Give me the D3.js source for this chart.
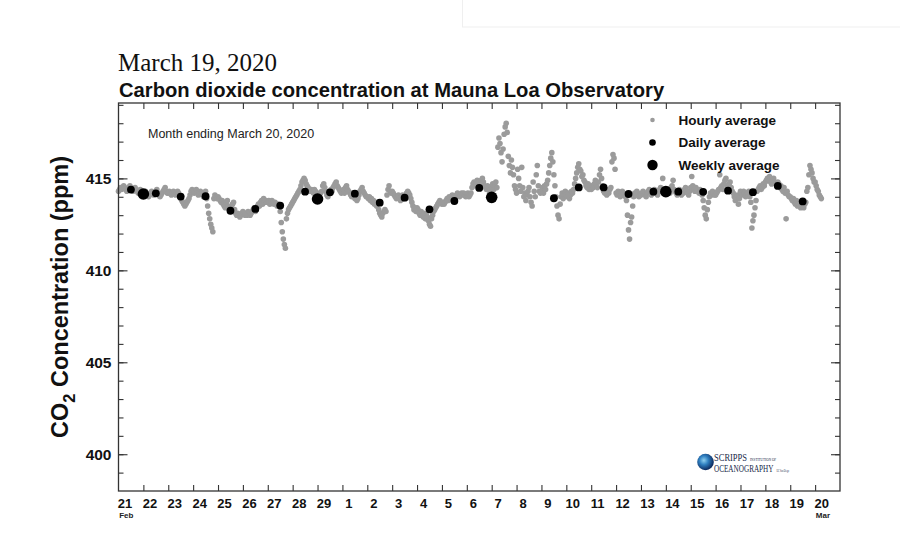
<!DOCTYPE html>
<html>
<head>
<meta charset="utf-8">
<script src="https://cdn.jsdelivr.net/npm/d3@7"></script>
<style>
  html, body { margin: 0; padding: 0; background: #fff; }
  svg { display: block; }
</style>
</head>
<body>
<svg id="chart" width="900" height="540"></svg>
<script>
// ---------------- DATA ----------------
const titleDate = "March 19, 2020";
const titleText = "Carbon dioxide concentration at Mauna Loa Observatory";
const noteText = "Month ending March 20, 2020";
const legendLabels = ["Hourly average", "Daily average", "Weekly average"];

// Hourly averages (ppm), one value per hour starting Feb 21 2020 00:00
const hourlyStart = "2020-02-21T00:00:00Z";
const hourlyFeb21toFeb27 = [
  414.3,414.4,414.5,414.4,414.5,414.6,414.5,414.4,414.3,414.4,414.5,414.6,414.5,414.4,414.3,414.4,414.5,414.4,414.3,414.2,414.3,414.4,414.3,414.2,
  414.2,414.1,414.3,414.2,414.1,414.0,414.1,414.2,414.3,414.2,414.1,414.2,414.3,414.4,414.2,414.1,414.0,414.1,414.2,414.3,414.4,414.5,414.3,414.2,
  414.2,414.3,414.2,414.1,414.2,414.3,414.2,414.1,414.2,414.3,414.2,414.0,413.9,413.8,413.7,413.6,413.5,413.6,413.7,413.8,413.9,414.1,414.3,414.4,
  414.3,414.2,414.3,414.4,414.2,414.1,414.2,414.3,414.2,414.1,414.0,414.2,414.3,413.9,413.5,413.1,412.8,412.5,412.3,412.1,413.9,414.1,414.0,413.9,
  414.0,413.9,413.8,413.7,413.8,413.6,413.5,413.4,413.7,413.8,413.5,413.3,413.2,413.4,413.6,413.7,413.3,413.1,413.0,413.1,413.0,412.9,413.0,413.1,
  413.2,413.1,413.0,413.1,413.0,413.2,413.1,413.0,413.1,413.2,413.3,413.4,413.2,413.3,413.5,413.6,413.5,413.7,413.8,413.6,413.9,413.7,413.8,413.7,
  413.7,413.8,413.6,413.7,413.8,413.7,413.6,413.7,413.6,413.5,413.6,413.5,413.2,412.6,412.1,411.7,411.4,411.2,412.8,413.1,413.3,413.4,413.5,413.6
];
const hourlyFeb28toMar05 = [
  413.7,413.8,413.9,414.0,414.1,414.2,414.3,414.4,414.6,414.8,414.9,415.0,414.9,414.7,414.6,414.5,414.4,414.3,414.4,414.3,414.2,414.4,414.3,414.2,
  414.2,414.1,414.0,414.2,414.3,414.6,414.7,414.5,414.3,414.1,414.0,414.2,414.3,414.4,414.3,414.5,414.6,414.7,414.8,414.6,414.5,414.4,414.3,414.2,
  414.3,414.4,414.2,414.5,414.6,414.4,414.3,414.2,414.1,414.0,414.2,414.1,413.9,414.0,413.8,413.9,414.1,414.3,414.4,414.5,414.3,414.2,414.1,414.0,
  414.0,413.9,414.0,413.8,413.9,413.7,413.8,413.6,413.7,413.5,413.6,413.3,413.1,413.0,412.9,413.1,413.2,413.3,413.2,414.1,414.4,414.6,414.3,414.2,
  414.3,414.2,414.1,414.0,413.9,414.0,414.1,413.9,413.8,414.0,414.1,413.9,414.0,414.1,414.2,414.3,414.2,414.1,413.9,413.7,413.5,413.3,413.4,413.2,
  413.4,413.3,413.1,413.0,413.2,413.0,412.9,413.1,412.8,413.0,412.9,412.7,412.5,412.4,412.8,413.0,413.2,413.3,413.4,413.5,413.6,413.7,413.8,413.7,
  413.6,413.7,413.6,413.7,413.8,413.9,413.8,414.0,413.9,414.0,414.1,414.0,413.9,414.0,414.1,414.2,414.1,414.0,414.1,414.2,414.1,414.2,414.1,414.0
];
const hourlyMar06toMar12 = [
  414.1,414.2,414.0,414.1,414.2,414.5,414.7,414.8,414.6,414.7,414.9,414.8,414.6,414.5,414.9,415.0,414.8,414.6,414.5,414.4,414.6,414.5,414.3,414.4,
  414.5,414.7,414.4,414.6,414.8,414.5,416.7,417.2,416.9,416.4,415.9,416.6,417.4,417.8,418.0,417.5,416.2,415.7,415.3,416.0,415.6,415.2,414.6,414.4,
  414.2,415.5,415.0,414.6,414.3,415.6,414.5,414.0,414.2,413.8,414.1,414.3,414.5,414.0,413.7,413.5,414.8,414.3,414.0,415.2,415.7,414.6,414.3,414.2,
  414.3,414.5,414.2,414.6,414.4,414.7,414.9,415.3,415.7,416.1,416.4,415.9,415.2,414.6,414.0,413.5,413.0,412.8,413.6,414.0,414.2,413.9,414.1,414.3,
  414.1,414.0,414.2,413.9,414.1,414.3,414.2,414.4,414.7,415.0,415.3,415.6,415.8,415.5,415.4,415.1,415.2,414.9,414.8,414.6,414.5,414.7,414.4,414.6,
  414.4,414.6,414.5,414.7,414.9,414.6,414.5,414.8,415.2,415.5,415.0,414.6,414.3,414.2,414.4,414.1,414.3,414.2,414.4,414.5,415.9,416.3,416.1,415.5,
  414.2,414.1,414.3,414.2,414.0,414.1,414.3,414.2,414.1,414.0,413.8,413.0,412.2,411.7,412.6,412.9,413.5,414.0,414.2,414.1,414.3,414.2,414.0,414.1
];
const hourlyMar13toMar20 = [
  414.1,414.2,414.3,414.2,414.1,414.0,414.2,414.3,414.4,414.2,414.1,414.3,414.2,414.4,414.3,414.2,414.1,414.3,414.4,414.5,414.3,415.0,414.4,414.3,
  414.3,414.2,414.4,414.3,414.2,414.5,414.6,414.9,414.4,414.3,414.2,414.1,414.3,414.4,414.2,414.1,414.3,414.2,414.4,414.5,414.3,414.2,414.1,414.3,
  414.5,415.1,414.6,414.4,414.3,414.5,414.4,414.3,414.2,414.4,414.3,414.1,413.8,413.4,413.0,412.8,413.3,413.7,414.0,414.2,414.1,414.3,414.2,414.1,
  414.1,414.2,414.3,414.4,415.2,414.5,414.6,414.4,414.7,414.9,415.0,414.6,414.5,414.7,414.8,414.5,414.3,414.2,414.0,413.8,413.9,414.1,413.6,413.9,
  414.3,414.2,414.1,414.3,414.2,414.0,414.1,414.2,414.3,414.0,413.7,412.3,412.7,413.0,413.4,413.8,414.3,414.4,414.5,414.6,414.4,414.5,414.7,414.6,
  414.8,414.9,415.0,414.9,415.1,414.8,414.7,414.9,415.0,414.8,414.7,414.6,414.8,414.7,414.5,414.6,414.4,414.3,414.5,414.2,412.8,414.3,414.1,414.0,
  414.0,413.9,413.8,413.9,413.7,413.6,413.8,413.5,413.6,413.5,413.4,413.6,413.5,413.4,413.6,413.7,414.3,414.5,415.2,415.7,415.5,415.3,415.0,414.8,
  414.8,414.6,414.4,414.3,414.1,414.0,413.9
];

// Daily averages (ppm), plotted at noon, Feb 21 .. Mar 19 (null = no daily value)
const dailyDates = ["2020-02-21","2020-02-22","2020-02-23","2020-02-24","2020-02-25","2020-02-26","2020-02-27",
  "2020-02-28","2020-02-29","2020-03-01","2020-03-02","2020-03-03","2020-03-04","2020-03-05",
  "2020-03-06","2020-03-07","2020-03-08","2020-03-09","2020-03-10","2020-03-11","2020-03-12",
  "2020-03-13","2020-03-14","2020-03-15","2020-03-16","2020-03-17","2020-03-18","2020-03-19"];
const dailyValues = [414.39,414.19,414.01,414.03,413.24,413.34,413.52,
  414.28,414.24,414.17,413.68,413.95,413.32,413.77,
  414.48,null,null,413.92,414.51,414.51,414.15,
  414.28,414.28,414.27,414.33,414.25,414.59,413.75];

// Weekly averages (ppm), plotted at start of day
const weeklyDates = ["2020-02-22","2020-02-29","2020-03-07","2020-03-14"];
const weeklyValues = [414.15,413.88,413.97,414.28];

// Axis ticks
const yMajorTicks = [400,405,410,415];
const xDayLabels = ["21","22","23","24","25","26","27","28","29","1","2","3","4","5","6","7","8","9","10","11","12","13","14","15","16","17","18","19","20"];
const xMonthLabels = [{day: 0, text: "Feb"}, {day: 28, text: "Mar"}];

// ---------------- CHART ----------------
const svg = d3.select("#chart");
const L = 118.5, R = 840, T = 103, B = 491;
const HOUR = 3600 * 1000, DAY = 24 * HOUR;
const t0 = new Date(hourlyStart);

const x = d3.scaleUtc().domain([t0, new Date(t0.getTime() + 29 * DAY)]).range([L, R]);
const y = d3.scaleLinear().domain([398, 419.1]).range([B, T]);

const hourly = [].concat(hourlyFeb21toFeb27, hourlyFeb28toMar05, hourlyMar06toMar12, hourlyMar13toMar20)
  .map((v, i) => ({t: new Date(t0.getTime() + i * HOUR), v}));
const daily = dailyDates.map((d, i) => ({t: new Date(d + "T12:00:00Z"), v: dailyValues[i]})).filter(d => d.v != null);
const weekly = weeklyDates.map((d, i) => ({t: new Date(d + "T00:00:00Z"), v: weeklyValues[i]}));

const sans = "'Liberation Sans', Arial, Helvetica, sans-serif";
const serif = "'Liberation Serif', 'Times New Roman', serif";

// faint box top right
svg.append("rect").attr("x", 462.5).attr("y", -2).attr("width", 440).attr("height", 29)
  .attr("fill", "none").attr("stroke", "#efefef").attr("stroke-width", 1);

// titles
svg.append("text").attr("x", 118).attr("y", 71).attr("font-family", serif).attr("font-size", 25)
  .attr("fill", "#111").text(titleDate);
svg.append("text").attr("x", 119).attr("y", 97).attr("font-family", sans).attr("font-size", 20.2)
  .attr("font-weight", "bold").attr("fill", "#111").text(titleText);

// axes (ticks inward) using d3 axes
const yTicksAll = d3.range(399, 420, 1);
const axisColor = "#333";
function styleAxis(g) {
  g.select(".domain").remove();
  g.selectAll(".tick line").attr("stroke", axisColor).attr("stroke-width", 1.1);
  g.selectAll(".tick text").remove();
}
// left
svg.append("g").attr("transform", `translate(${L},0)`)
  .call(d3.axisRight(y).tickValues(yTicksAll).tickSize(5)).call(styleAxis);
svg.append("g").attr("transform", `translate(${L},0)`)
  .call(d3.axisRight(y).tickValues(yMajorTicks).tickSize(9)).call(styleAxis);
// right
svg.append("g").attr("transform", `translate(${R},0)`)
  .call(d3.axisLeft(y).tickValues(yTicksAll).tickSize(5)).call(styleAxis);
svg.append("g").attr("transform", `translate(${R},0)`)
  .call(d3.axisLeft(y).tickValues(yMajorTicks).tickSize(9)).call(styleAxis);
// bottom/top day ticks
const dayTicks = d3.range(1, 29).map(d => new Date(t0.getTime() + d * DAY));
svg.append("g").attr("transform", `translate(0,${B})`)
  .call(d3.axisTop(x).tickValues(dayTicks).tickSize(6)).call(styleAxis);
svg.append("g").attr("transform", `translate(0,${T})`)
  .call(d3.axisBottom(x).tickValues(dayTicks).tickSize(6)).call(styleAxis);

// y tick labels
svg.append("g").selectAll("text").data(yMajorTicks).join("text")
  .attr("x", L - 7).attr("y", d => y(d) + 5.5)
  .attr("text-anchor", "end").attr("font-family", sans).attr("font-weight", "bold")
  .attr("font-size", 15.5).attr("fill", "#111").text(d => d);

// x day labels
svg.append("g").selectAll("text").data(xDayLabels).join("text")
  .attr("x", (d, i) => x(new Date(t0.getTime() + i * DAY + 6.3 * HOUR)))
  .attr("y", 508)
  .attr("text-anchor", "middle").attr("font-family", sans).attr("font-weight", "bold")
  .attr("font-size", 13).attr("fill", "#111").text(d => d);
svg.append("g").selectAll("text").data(xMonthLabels).join("text")
  .attr("x", d => x(new Date(t0.getTime() + d.day * DAY + 7.5 * HOUR)))
  .attr("y", 517.5)
  .attr("text-anchor", "middle").attr("font-family", sans).attr("font-weight", "bold")
  .attr("font-size", 8).attr("fill", "#222").text(d => d.text);

// y axis title
const yt = svg.append("text").attr("transform", `translate(68,${(T + B) / 2}) rotate(-90)`)
  .attr("text-anchor", "middle").attr("font-family", sans).attr("font-weight", "bold")
  .attr("font-size", 23.5).attr("fill", "#111");
yt.append("tspan").text("CO");
yt.append("tspan").attr("font-size", 16.5).attr("dy", 7).text("2");
yt.append("tspan").attr("dy", -7).text(" Concentration (ppm)");

// note
svg.append("text").attr("x", 148).attr("y", 138).attr("font-family", sans)
  .attr("font-size", 12.5).attr("fill", "#222").text(noteText);

// data
const gray = "#9b9b9b";
svg.append("g").selectAll("circle").data(hourly).join("circle")
  .attr("cx", d => x(d.t)).attr("cy", d => y(d.v)).attr("r", 2.8).attr("fill", gray);
svg.append("g").selectAll("circle").data(daily).join("circle")
  .attr("cx", d => x(d.t)).attr("cy", d => y(d.v)).attr("r", 3.9).attr("fill", "#000");
svg.append("g").selectAll("circle").data(weekly).join("circle")
  .attr("cx", d => x(d.t)).attr("cy", d => y(d.v)).attr("r", 5.8).attr("fill", "#000");

// legend
const legR = [2.3, 3.3, 5.2];
const legCol = [gray, "#000", "#000"];
const lg = svg.append("g");
legendLabels.forEach((lab, i) => {
  const yy = 120 + i * 22.5;
  lg.append("circle").attr("cx", 652.5).attr("cy", yy).attr("r", legR[i]).attr("fill", legCol[i]);
  lg.append("text").attr("x", 678.5).attr("y", yy + 4.8).attr("font-family", sans)
    .attr("font-weight", "bold").attr("font-size", 13.5).attr("fill", "#111").text(lab);
});

// frame
svg.append("rect").attr("x", L).attr("y", T).attr("width", R - L).attr("height", B - T)
  .attr("fill", "none").attr("stroke", axisColor).attr("stroke-width", 1.3);

// logo
const defs = svg.append("defs");
const grad = defs.append("radialGradient").attr("id", "globe").attr("cx", "40%").attr("cy", "40%").attr("r", "60%");
grad.append("stop").attr("offset", "0%").attr("stop-color", "#8fd0f0");
grad.append("stop").attr("offset", "45%").attr("stop-color", "#2f7fc0");
grad.append("stop").attr("offset", "100%").attr("stop-color", "#0d2a5e");
const logo = svg.append("g");
logo.append("circle").attr("cx", 705.5).attr("cy", 462).attr("r", 8.3).attr("fill", "url(#globe)");
function logoText(tx, ty, sx, size, str) {
  logo.append("g").attr("transform", `translate(${tx},${ty}) scale(${sx},1)`)
    .append("text").attr("x", 0).attr("y", 0).attr("font-family", serif).attr("font-size", size)
    .attr("fill", "#1a2a4a").text(str);
}
logoText(714, 461, 0.85, 10, "SCRIPPS");
logoText(750, 460.5, 0.8, 4.2, "INSTITUTION OF");
logoText(714, 472, 0.75, 9.6, "OCEANOGRAPHY");
logoText(776.5, 471.5, 0.6, 3.6, "UC San Diego");
</script>
</body>
</html>
